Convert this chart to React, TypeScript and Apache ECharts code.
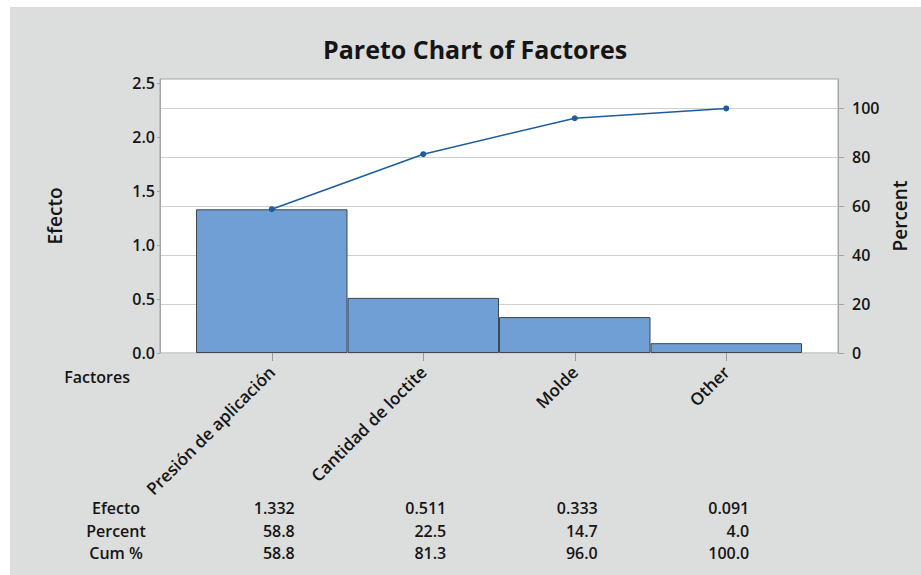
import React, { useEffect, useRef } from "react";
import * as echarts from "echarts";

const categories = ["Presión de aplicación", "Cantidad de loctite", "Molde", "Other"];
const efecto = [1.332, 0.511, 0.333, 0.091];
const percent = [58.8, 22.5, 14.7, 4.0];
const cumPercent = [58.8, 81.3, 96.0, 100.0];
const leftTicks = [0, 0.5, 1.0, 1.5, 2.0, 2.5];
const rightTicks = [0, 20, 40, 60, 80, 100];

const FONT = "'Open Sans', 'Noto Sans', sans-serif";
const TXT = "#151515";

export default function App() {
  const ref = useRef<HTMLDivElement>(null);

  useEffect(() => {
    document.body.style.margin = "0";
    if (!ref.current) return;
    const chart = echarts.init(ref.current, null, { renderer: "svg" });

    const total = efecto.reduce((a, b) => a + b, 0);
    const leftMax = 2.54;
    const rightMax = (leftMax / total) * 100;

    const base = { fontFamily: FONT, color: TXT, fontWeight: 600 as const, fontSize: 16 };

    const tableAxis = (labels: string[], name: string, offset: number) => ({
      type: "category",
      gridIndex: 1,
      position: "bottom",
      offset,
      data: labels,
      axisLine: { show: false, onZero: false },
      axisTick: { show: false },
      splitLine: { show: false },
      axisLabel: {
        margin: 0,
        verticalAlign: "middle",
        interval: 0,
        formatter: (v: string) => `{r|${v}}`,
        rich: { r: { ...base, width: 46, align: "right" } },
      },
      name,
      nameLocation: "start",
      nameGap: 80,
      nameTextStyle: { ...base, align: "center", verticalAlign: "middle" },
    });

    chart.setOption({
      animation: false,
      backgroundColor: "transparent",
      title: {
        text: "Pareto Chart of Factores",
        left: 318,
        top: 31,
        textStyle: { fontFamily: FONT, fontSize: 25, fontWeight: "bold", color: TXT },
      },
      grid: [
        {
          left: 160,
          right: 83,
          top: 79,
          bottom: 222,
          show: true,
          backgroundColor: "#ffffff",
          borderColor: "#a4a4a4",
          borderWidth: 1,
        },
        { left: 196, right: 119, top: 79, bottom: 222 },
      ],
      xAxis: [
        { type: "value", gridIndex: 0, min: 0, max: 1, show: false },
        {
          type: "category",
          gridIndex: 1,
          data: categories,
          position: "bottom",
          axisLine: { show: false, onZero: false },
          axisTick: { show: true, alignWithLabel: true, length: 8, lineStyle: { color: "#9a9a9a" } },
          axisLabel: { ...base, fontSize: 17, rotate: 45, margin: 16, interval: 0 },
        },
        {
          type: "category",
          gridIndex: 1,
          data: categories,
          position: "bottom",
          offset: 24,
          axisLine: { show: false, onZero: false },
          axisTick: { show: false },
          axisLabel: { show: false },
          name: "Factores",
          nameLocation: "start",
          nameGap: 66,
          nameTextStyle: { ...base, align: "right", verticalAlign: "middle" },
        },
        tableAxis(efecto.map((v) => v.toFixed(3)), "Efecto", 155),
        tableAxis(percent.map((v) => v.toFixed(1)), "Percent", 178),
        tableAxis(cumPercent.map((v) => v.toFixed(1)), "Cum %", 200),
      ],
      yAxis: [
        {
          type: "value",
          gridIndex: 0,
          position: "left",
          min: 0,
          max: leftMax,
          interval: leftTicks[1] - leftTicks[0],
          axisLine: { show: true, lineStyle: { color: "#a4a4a4" } },
          axisTick: { show: true, length: 3, lineStyle: { color: "#a4a4a4" } },
          splitLine: { show: false },
          axisLabel: {
            ...base,
            margin: 5,
            showMaxLabel: false,
            formatter: (v: number) => (leftTicks.some((t) => Math.abs(t - v) < 1e-6) ? v.toFixed(1) : ""),
          },
          name: "Efecto",
          nameLocation: "middle",
          nameRotate: 90,
          nameGap: 96,
          nameTextStyle: { ...base, fontSize: 19 },
        },
        {
          type: "value",
          gridIndex: 0,
          position: "right",
          min: 0,
          max: rightMax,
          interval: rightTicks[1] - rightTicks[0],
          axisLine: { show: true, lineStyle: { color: "#a4a4a4" } },
          axisTick: { show: true, length: 6, lineStyle: { color: "#a4a4a4" } },
          splitLine: { show: true, lineStyle: { color: "#cfcfcf", width: 1 } },
          axisLabel: {
            ...base,
            margin: 14,
            showMaxLabel: false,
            formatter: (v: number) => (rightTicks.includes(Math.round(v)) && Math.abs(v - Math.round(v)) < 1e-6 ? String(Math.round(v)) : ""),
          },
          name: "Percent",
          nameLocation: "middle",
          nameRotate: 90,
          nameGap: 52,
          nameTextStyle: { ...base, fontSize: 19 },
        },
        { type: "value", gridIndex: 1, position: "left", min: 0, max: leftMax, show: false },
        { type: "value", gridIndex: 1, position: "right", min: 0, max: rightMax, show: false },
      ],
      series: [
        {
          type: "bar",
          xAxisIndex: 1,
          yAxisIndex: 2,
          data: efecto,
          barWidth: "100%",
          barCategoryGap: "0%",
          itemStyle: { color: "#6f9fd4", borderColor: "#3e4750", borderWidth: 1 },
          z: 2,
        },
        {
          type: "line",
          xAxisIndex: 1,
          yAxisIndex: 3,
          data: cumPercent,
          symbol: "circle",
          symbolSize: 6,
          lineStyle: { color: "#1d5c9e", width: 1.5 },
          itemStyle: { color: "#1d5c9e" },
          z: 3,
        },
      ],
    });

    return () => chart.dispose();
  }, []);

  return (
    <div style={{ position: "relative", width: 921, height: 575, background: "#ffffff", overflow: "hidden" }}>
      <div style={{ position: "absolute", left: 10, top: 7, right: 0, bottom: 0, background: "#dcdddd" }} />
      <div ref={ref} style={{ position: "absolute", left: 0, top: 0, width: 921, height: 575 }} />
    </div>
  );
}
